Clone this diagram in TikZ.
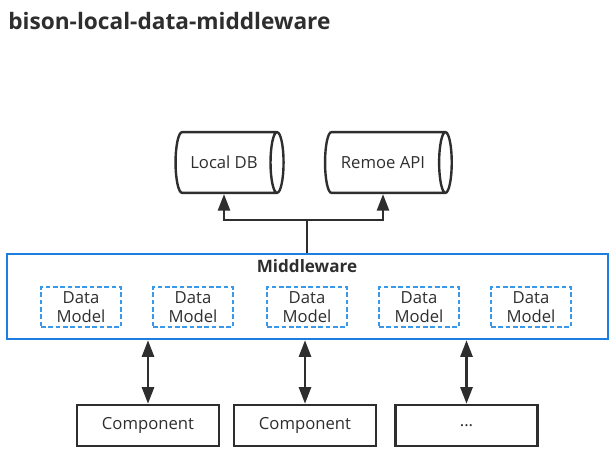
\documentclass[tikz,border=0pt]{standalone}
\usepackage{fontspec}
\setmainfont{Open Sans}
\usetikzlibrary{shapes.geometric,arrows.meta}
\definecolor{mwblue}{HTML}{1C7FE0}
\definecolor{dmblue}{HTML}{3A98E8}
\definecolor{ink}{HTML}{2E2E2E}
\begin{document}
\begin{tikzpicture}[x=0.75pt, y=-0.75pt,
        store/.style = {draw=ink, line width=1.8pt, cylinder, aspect=0.6, minimum width=45.5pt, font=\fontsize{12.5}{14}\selectfont, text=ink},
        comp/.style = {draw=ink, line width=1.8pt, minimum width=106.5pt, minimum height=30.75pt, font=\fontsize{12.5}{14}\selectfont, text=ink},
        model/.style = {draw=dmblue, line width=0.9pt, dash pattern=on 3.5pt off 2pt, minimum width=60pt, minimum height=30pt, align=center, inner sep=0pt, font=\fontsize{12.5}{14.2}\selectfont, text=ink},
        conn/.style = {draw=ink, line width=2pt},
        tip/.style = {-{Triangle[width=9pt,length=12.5pt]}},
        both/.style = {{Triangle[width=9pt,length=12.5pt]}-{Triangle[width=9pt,length=12.5pt]}}]
        \useasboundingbox (0,0) rectangle (616,452);
        \node[anchor=west, inner sep=0pt, font=\fontsize{17}{20}\selectfont\bfseries, text=ink] (title) at (8,21) {bison-local-data-middleware};

        \node[store, minimum height=81pt] (localdb) at (224,162.5) {Local DB};
        \node[store, minimum height=95pt] (remoteapi) at (383,162.5) {Remoe API};

        \node[draw=mwblue, line width=1.8pt, minimum width=450.75pt, minimum height=63.75pt] (mw) at (307.5,296.5) {};
        \node[font=\fontsize{12.8}{14}\selectfont\bfseries, text=ink] (mwlabel) at (307,266) {Middleware};

        \node[model] (dm1) at (81,307) {Data\\Model};
        \node[model] (dm2) at (193,307) {Data\\Model};
        \node[model] (dm3) at (307,307) {Data\\Model};
        \node[model] (dm4) at (419,307) {Data\\Model};
        \node[model] (dm5) at (531,307) {Data\\Model};

        \node[comp] (comp1) at (148,425.5) {Component};
        \node[comp] (comp2) at (305,425.5) {Component};
        \node[comp] (comp3) at (466.5,425.5) {...};

        \coordinate (split) at (307,220);
        \draw[conn] (mw.north -| split) -- (split);
        \draw[conn, tip] (split) -| (localdb.south);
        \draw[conn, tip] (split) -| (remoteapi.south);

        \draw[conn, both] (mw.south -| comp1) -- (comp1.north);
        \draw[conn, both] (mw.south -| comp2) -- (comp2.north);
        \draw[conn, both] (mw.south -| comp3) -- (comp3.north);
    \end{tikzpicture}
\end{document}
